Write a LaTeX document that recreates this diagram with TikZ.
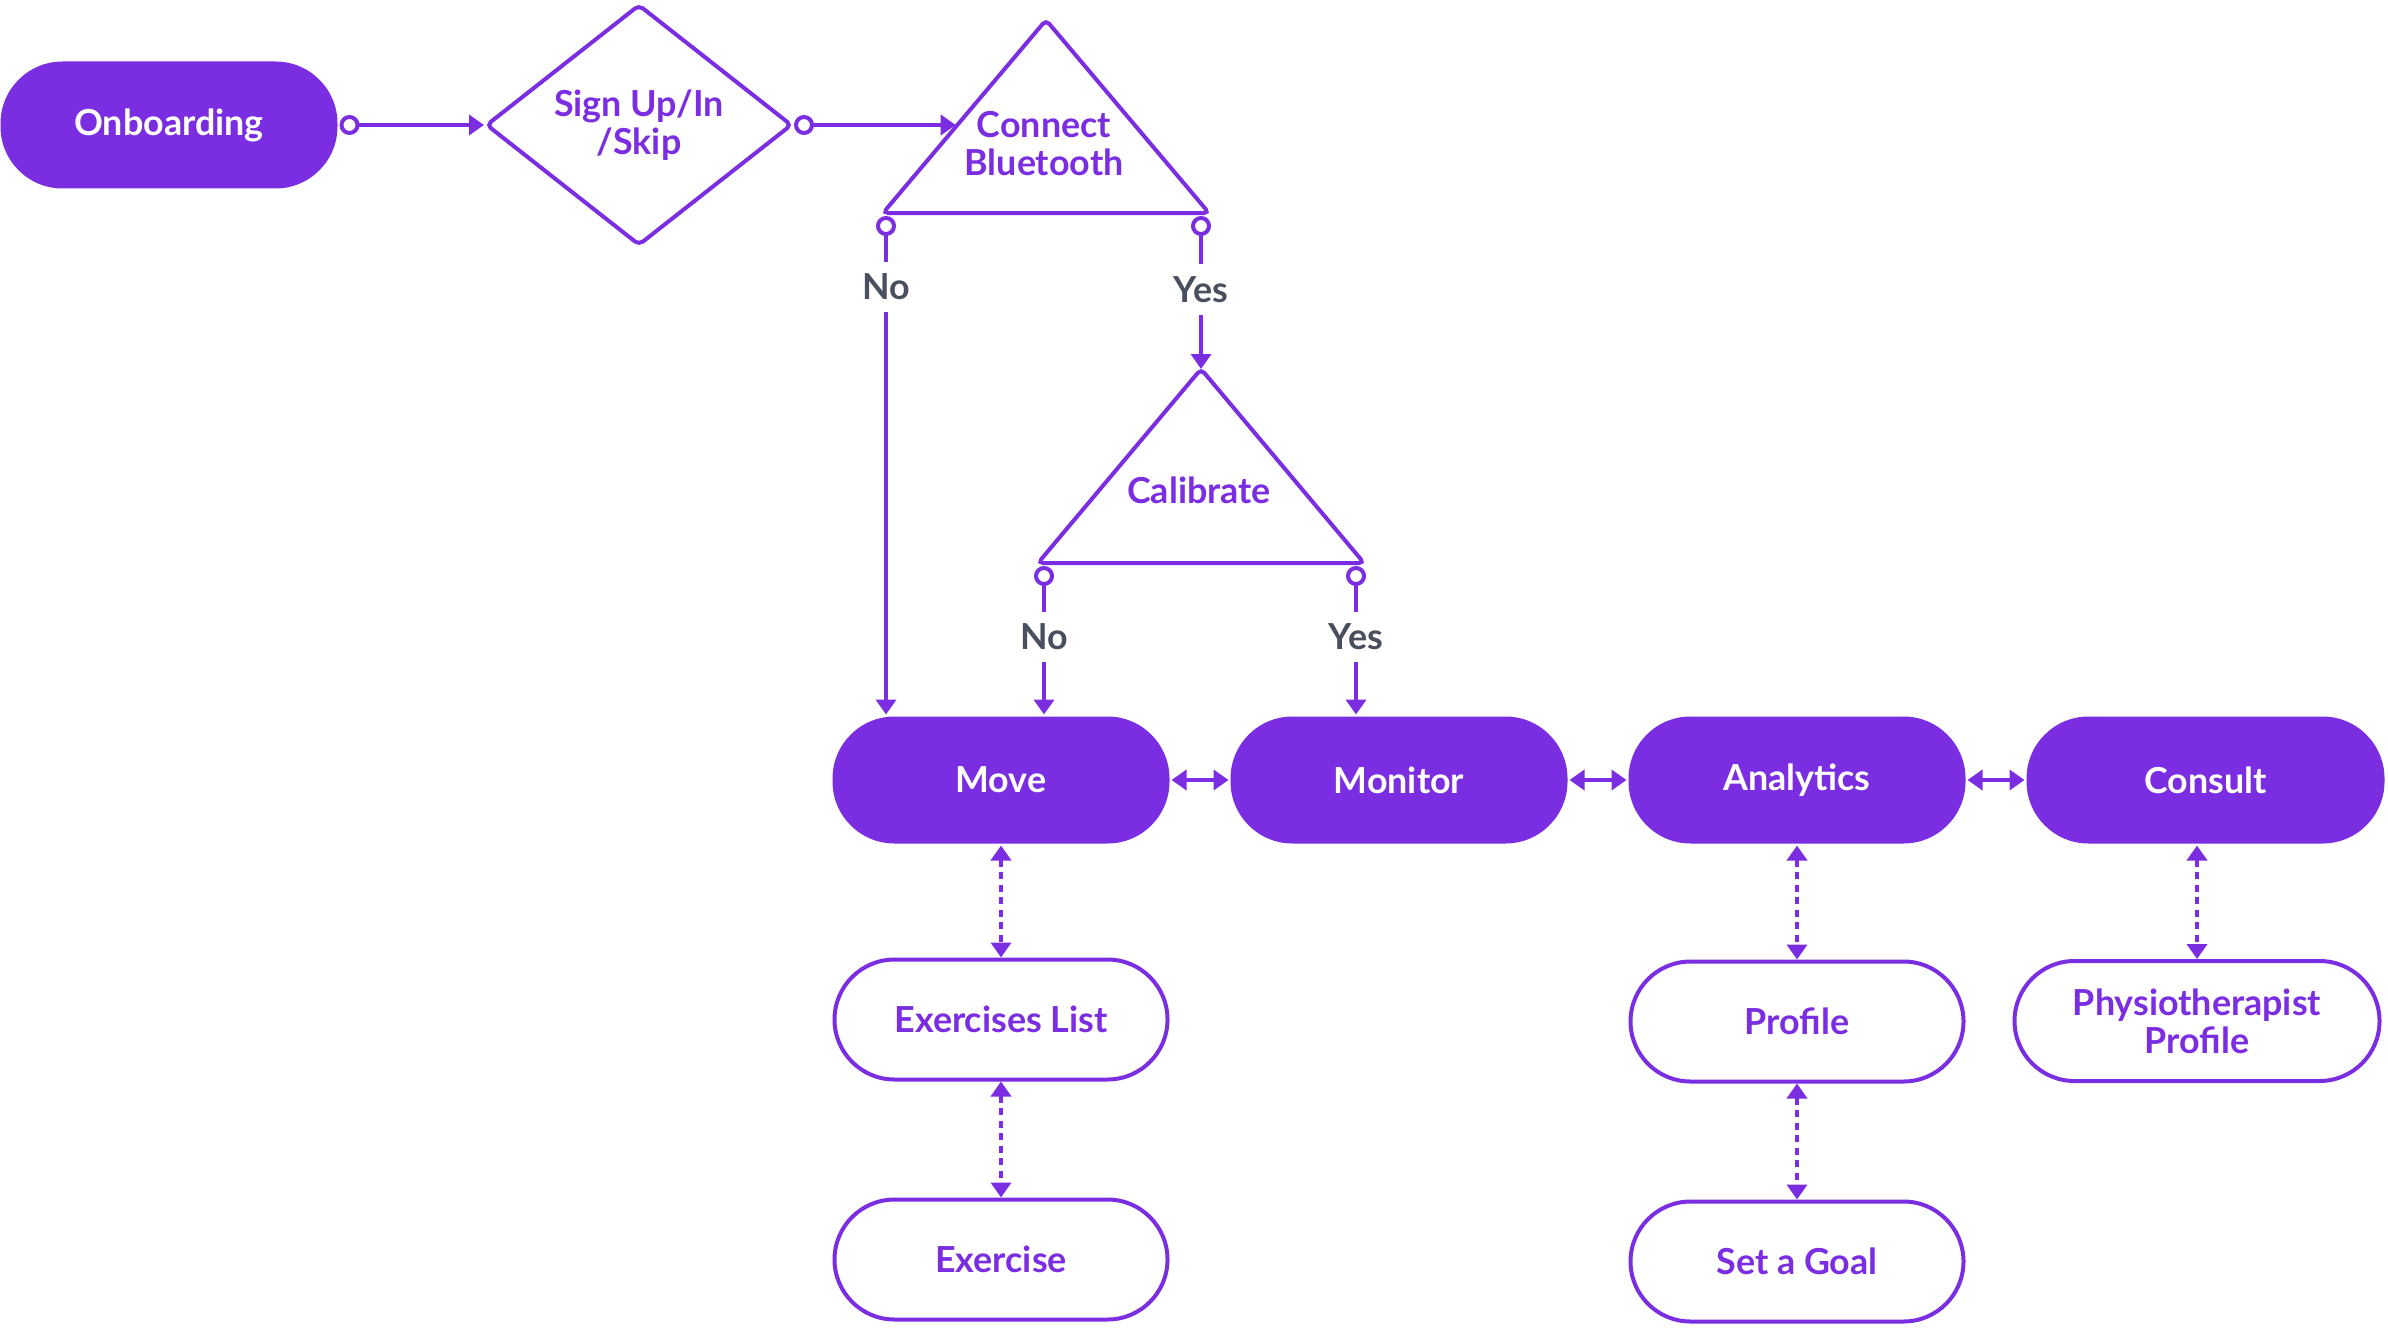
\documentclass[tikz,border=0pt]{standalone}
\usepackage{fontspec}
\setmainfont{Lato}
\usepackage{xcolor}
\usepackage{tikz}
\usetikzlibrary{shapes.geometric, arrows.meta, positioning, calc}

\definecolor{appviolet}{HTML}{7B2DE1}
\definecolor{answergray}{HTML}{4A4F5E}

\begin{document}
\begin{tikzpicture}[node distance=1.12cm and 0.57cm, >={Triangle[length=0.15cm,width=0.2cm]},
  font=\fontsize{10.2}{10.8}\selectfont\bfseries, line width=0.04cm,
  solidpill/.style={rectangle, rounded corners=0.62cm, fill=appviolet, text=white, minimum width=3.37cm, minimum height=1.27cm, align=center},
  linepill/.style={rectangle, rounded corners=0.6cm, draw=appviolet, fill=white, text=appviolet, minimum width=3.33cm, minimum height=1.2cm, align=center},
  flow/.style={draw=appviolet, {Circle[open,length=0.2cm,width=0.2cm]}->},
  link/.style={draw=appviolet, <->},
  sublink/.style={draw=appviolet, <->, dash pattern=on 0.07cm off 0.055cm},
  answer/.style={fill=white, text=answergray, inner xsep=0.03cm, inner ysep=0.12cm}]
  \useasboundingbox (0,0) rectangle (23.88,-13.28);

  % top row
  \node[solidpill] (onb) at (1.69,-1.25) {Onboarding};
  \node[draw=appviolet, diamond, rounded corners=0.05cm, minimum width=3.06cm, minimum height=2.41cm, inner sep=0pt, text=appviolet, align=center] (sign) at (6.39,-1.25) {Sign Up/In\\/Skip};

  \coordinate (bt-top) at (10.46,-0.20);
  \coordinate (bt-l) at (8.83,-2.13);
  \coordinate (bt-r) at (12.09,-2.13);
  \draw[appviolet, rounded corners=0.05cm] (bt-top) -- (bt-r) -- (bt-l) -- cycle;
  \node[text=appviolet, align=center] (bt) at (10.44,-1.44) {Connect\\Bluetooth};
  \coordinate (bt-w) at ($(bt-l)!0.446!(bt-top)$);
  \coordinate (bt-no) at (8.86,-2.16);
  \coordinate (bt-yes) at (12.01,-2.16);

  % calibrate
  \coordinate (cal-top) at (12.01,-3.69);
  \coordinate (cal-l) at (10.38,-5.63);
  \coordinate (cal-r) at (13.64,-5.63);
  \draw[appviolet, rounded corners=0.05cm] (cal-top) -- (cal-r) -- (cal-l) -- cycle;
  \node[text=appviolet] (cal) at (11.99,-4.90) {Calibrate};
  \coordinate (cal-no) at (10.44,-5.66);
  \coordinate (cal-yes) at (13.56,-5.66);

  % main row
  \node[solidpill] (move) at (10.01,-7.80) {Move};
  \node[solidpill, right=of move] (monitor) {Monitor};
  \node[solidpill, right=of monitor] (analytics) {Analytics};
  \node[solidpill, minimum width=3.58cm, right=of analytics] (consult) {Consult};

  \node[linepill, below=of move] (exlist) {Exercises List};
  \node[linepill, below=1.16cm of exlist] (exercise) {Exercise};
  \node[linepill, below=1.14cm of analytics] (profile) {Profile};
  \node[linepill, below=1.16cm of profile] (goal) {Set a Goal};
  \node[linepill, minimum width=3.65cm] (physio) at (21.97,-10.21) {Physiotherapist\\Profile};

  % connectors
  \draw[flow] (onb.east) -- (sign.west);
  \draw[flow] (sign.east) -- (sign.east -| bt-w);
  \draw[flow] (bt-no) -- node[answer, pos=0.142] {No} (bt-no |- move.north);
  \draw[flow] (bt-yes) -- node[answer, pos=0.48] {Yes} (cal-top);
  \draw[flow] (cal-no) -- node[answer, pos=0.477] {No} (cal-no |- move.north);
  \draw[flow] (cal-yes) -- node[answer, pos=0.477] {Yes} (cal-yes |- monitor.north);

  \draw[link] (move) -- (monitor);
  \draw[link] (monitor) -- (analytics);
  \draw[link] (analytics) -- (consult);

  \draw[sublink] (move) -- (exlist);
  \draw[sublink] (exlist) -- (exercise);
  \draw[sublink] (analytics) -- (profile);
  \draw[sublink] (profile) -- (goal);
  \draw[sublink] (physio.north |- consult.south) -- (physio.north);
\end{tikzpicture}
\end{document}
